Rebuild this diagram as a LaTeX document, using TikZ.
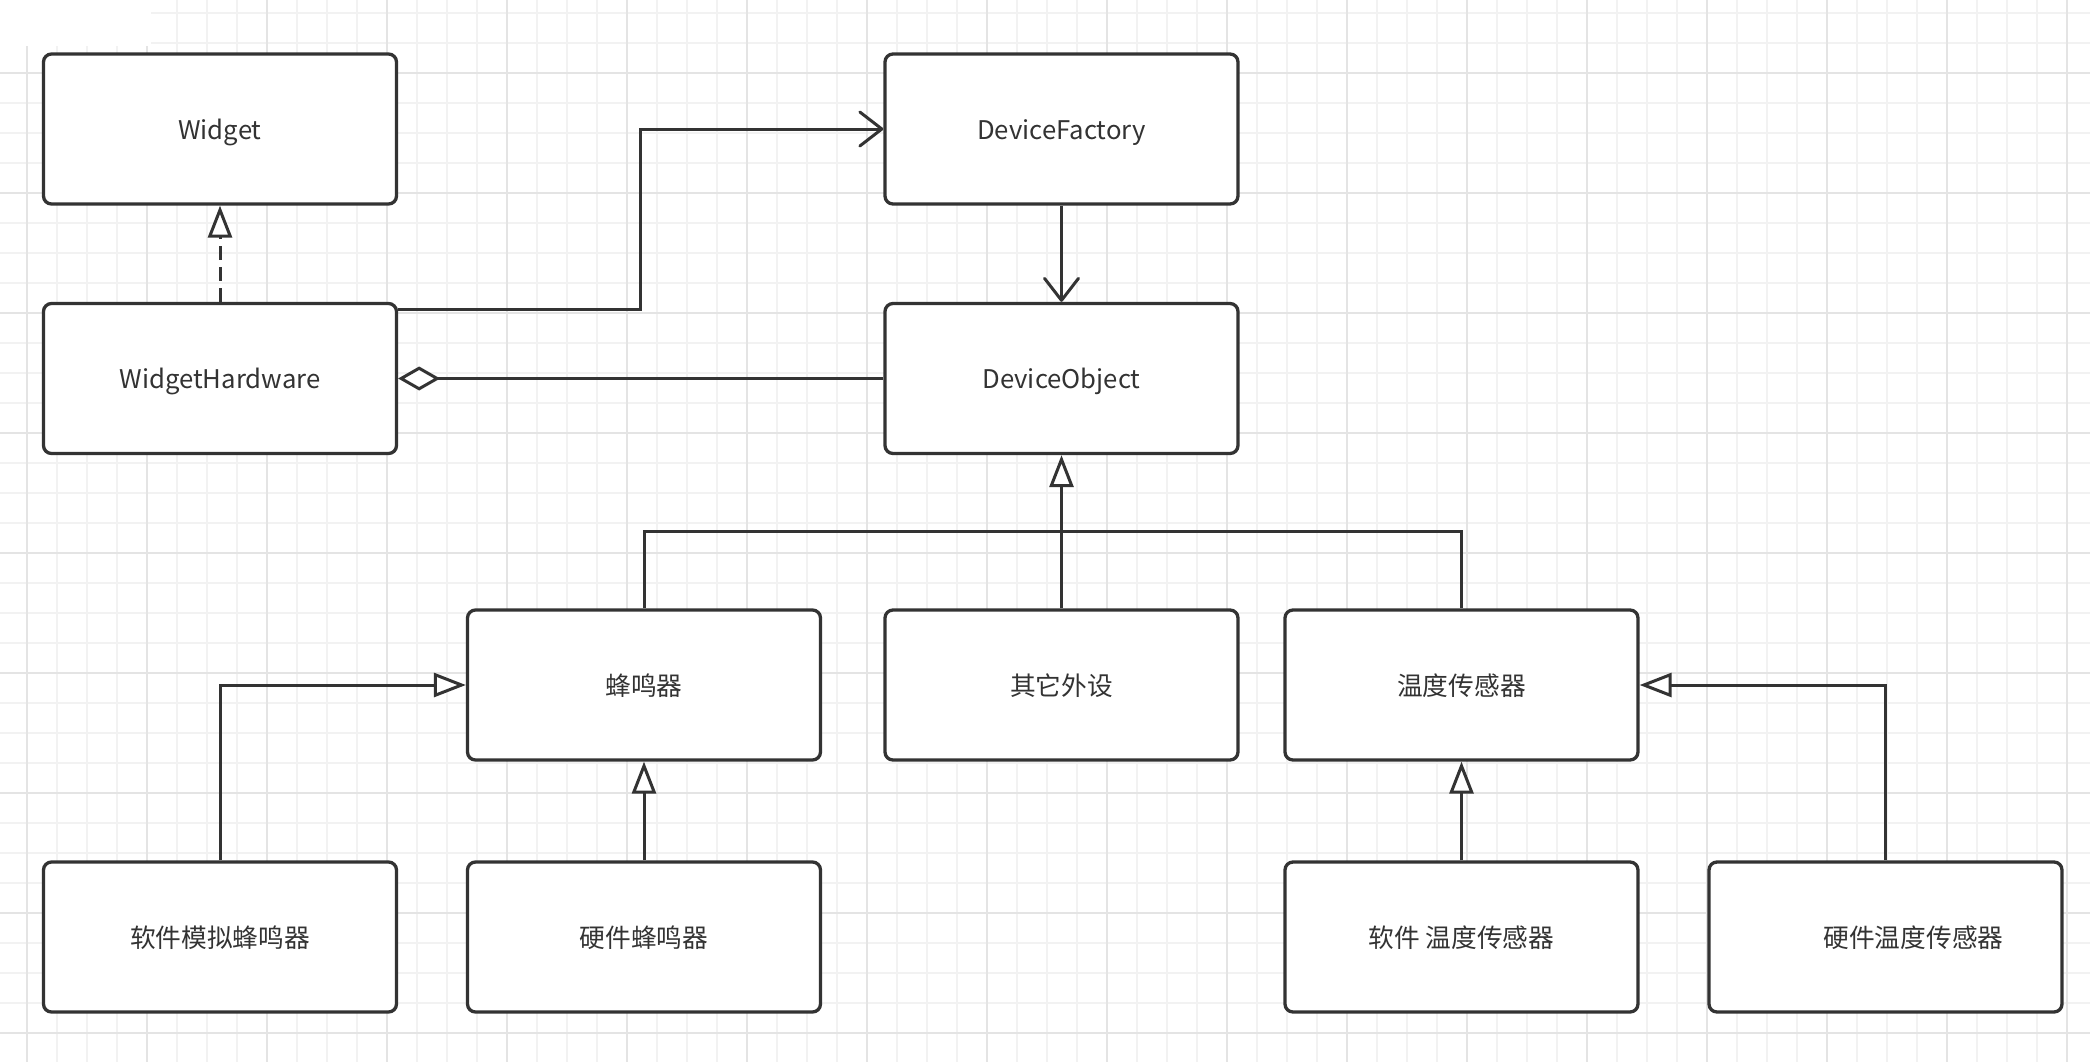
\documentclass[tikz,border=0pt]{standalone}
\usepackage{fontspec}
\newfontfamily\cjk{Noto Sans CJK SC}
\usetikzlibrary{arrows.meta,calc}
\definecolor{ink}{HTML}{333333}
\definecolor{gminor}{HTML}{F2F2F2}
\definecolor{gmajor}{HTML}{E4E4E4}
\begin{document}
\begin{tikzpicture}[x=0.5pt,y=-0.5pt,
  box/.style={draw=ink, fill=white, line width=1.65pt, rounded corners=4pt,
    minimum width=176.5pt, minimum height=75pt, inner sep=0pt, text=ink,
    text height=11.8pt, text depth=1.5pt,
    font=\cjk\fontsize{12.85}{15}\selectfont},
  conn/.style={draw=ink, line width=1.5pt},
  gen/.style={conn, -{Triangle[fill=white, length=16pt, width=12pt]}},
  real/.style={gen, dash pattern=on 7pt off 3.5pt},
  assoc/.style={conn, -{Straight Barb[length=11pt, width=17pt, round]}},
  aggr/.style={conn, -{Diamond[fill=white, length=21pt, width=12pt]}},
  gminorline/.style={draw=gminor, line width=0.9pt},
  gmajorline/.style={draw=gmajor, line width=1pt}
]
\useasboundingbox (0,0) rectangle (2090,1062);
\fill[white] (0,0) rectangle (2090,1062);
% grid
\foreach \x in {27,57,...,2067} \draw[gminorline] (\x,0) -- (\x,1062);
\foreach \y in {13,43,...,1033} \draw[gminorline] (0,\y) -- (2090,\y);
\foreach \x in {27,147,...,2067} \draw[gmajorline] (\x,0) -- (\x,1062);
\foreach \y in {73,193,...,1033} \draw[gmajorline] (0,\y) -- (2090,\y);
\fill[white] (0,0) rectangle (151,46);

% nodes
\node[box] (w)   at (220,129)    {Widget};
\node[box] (df)  at (1061.5,129) {DeviceFactory};
\node[box] (wh)  at (220,378.5)  {WidgetHardware};
\node[box] (do)  at (1061.5,378.5) {DeviceObject};
\node[box] (fmq) at (644,685)    {蜂鸣器};
\node[box] (qt)  at (1061.5,685) {其它外设};
\node[box] (wd)  at (1461.5,685) {温度传感器};
\node[box] (rjfmq) at (220,937)  {软件模拟蜂鸣器};
\node[box] (yjfmq) at (644,937)  {硬件蜂鸣器};
\node[box] (rjwd)  at (1461.5,937) {软件 温度传感器};
\node[box] (yjwd)  at (1885.5,937) {\hspace*{28pt}硬件温度传感器};

% connectors
\draw[real] (wh.north) -- (w.south);
\coordinate (mx) at ($(wh.east)!.5!(df.west)$);
\draw[assoc] ([yshift=-4pt]wh.north east) -| (mx |- df.west) -- (df.west);
\draw[assoc] (df.south) -- (do.north);
\draw[aggr] (do.west) -- (wh.east);
\coordinate (j) at ($(do.south)!.5!(qt.north)$);
\draw[conn] (fmq.north) |- (j) -| (wd.north);
\draw[gen] (qt.north) -- (do.south);
\draw[gen] (rjfmq.north) |- (fmq.west);
\draw[gen] (yjfmq.north) -- (fmq.south);
\draw[gen] (rjwd.north) -- (wd.south);
\draw[gen] (yjwd.north) |- (wd.east);
\end{tikzpicture}
\end{document}
